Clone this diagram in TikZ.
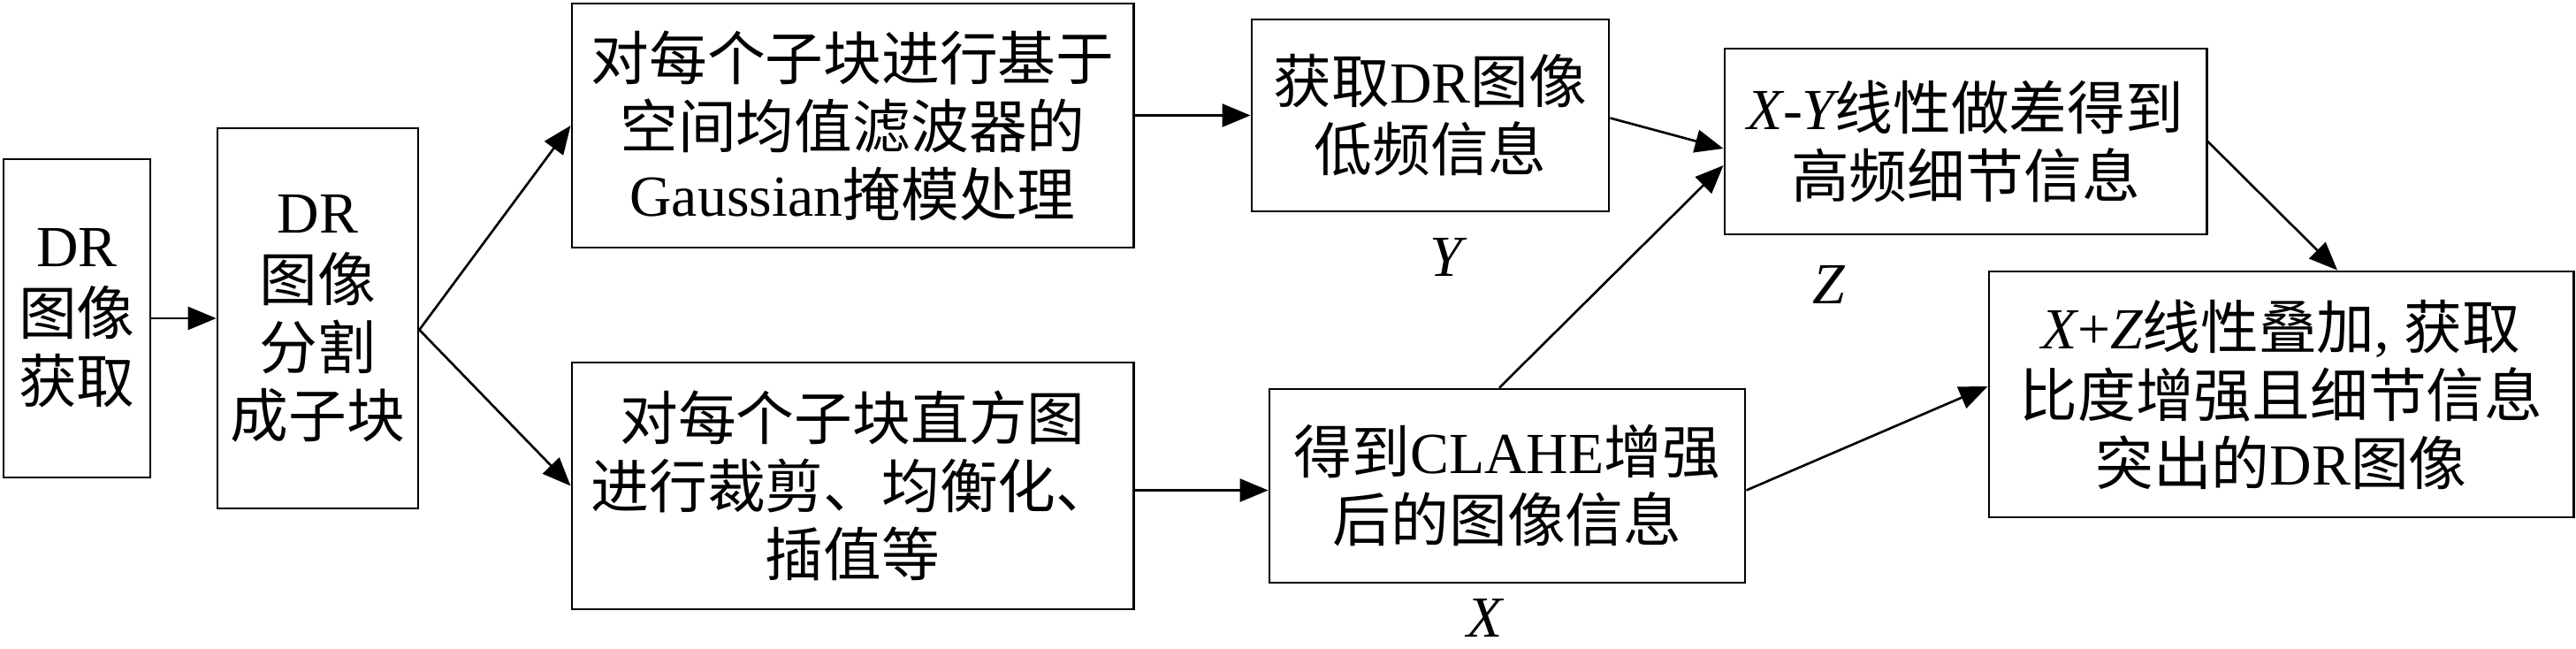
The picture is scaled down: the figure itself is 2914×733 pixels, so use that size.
\documentclass[tikz,border=0pt]{standalone}
\usepackage{fontspec}
\setmainfont{Noto Sans CJK SC}
\newfontfamily\latf{Liberation Serif}
\usetikzlibrary{arrows.meta}
\newcommand\rmL[1]{{\latf #1}}
\newcommand\itL[1]{{\latf\itshape #1}}
\begin{document}
\begin{tikzpicture}[x=0.01cm,y=-0.01cm,
  box/.style={draw, line width=0.75pt, align=center, inner sep=0pt,
    font=\fontsize{18.7}{21.9}\selectfont},
  arr/.style={-{Triangle[length=3.2mm,width=2.6mm]}, line width=0.75pt},
  lab/.style={font=\fontsize{18.7}{21.9}\selectfont\latf\itshape, inner sep=0pt, anchor=base}]
\useasboundingbox (0,0) rectangle (2914,733);
\node[box, minimum width=1.66cm, minimum height=3.6cm] (b1) at (87,360) {\rmL{DR}\\图像\\获取};
\node[box, minimum width=2.27cm, minimum height=4.3cm] (b2) at (359.5,360) {\rmL{DR}\\图像\\分割\\成子块};
\node[box, minimum width=6.35cm, minimum height=2.76cm] (b3) at (964.5,142) {对每个子块进行基于\\空间均值滤波器的\\\rmL{Gaussian}掩模处理};
\node[box, minimum width=6.35cm, minimum height=2.79cm] (b4) at (964.5,549.5) {对每个子块直方图\\进行裁剪、均衡化、\\插值等};
\node[box, minimum width=4.04cm, minimum height=2.17cm] (b5) at (1618,130.5) {获取\rmL{DR}图像\\低频信息};
\node[box, minimum width=5.38cm, minimum height=2.19cm] (b6) at (1705,549.5) {得到\rmL{CLAHE}增强\\后的图像信息};
\node[box, minimum width=5.45cm, minimum height=2.10cm] (b7) at (2223.5,160) {\itL{X}\rmL{-}\itL{Y}线性做差得到\\高频细节信息};
\node[box, minimum width=6.61cm, minimum height=2.78cm] (b8) at (2580.5,446) {\itL{X}\rmL{+}\itL{Z}线性叠加\rmL{, }获取\\比度增强且细节信息\\突出的\rmL{DR}图像};
\node[lab] (ly) at (1636,312) {Y};
\node[lab] (lz) at (2069,343) {Z};
\node[lab] (lx) at (1680,720) {X};
\draw[arr] (b1) -- (b2);
\draw[arr] ([yshift=-0.13cm]b2.east) -- (b3.west);
\draw[arr] ([yshift=-0.13cm]b2.east) -- (b4.west);
\draw[arr] (b3.east |- b5.west) -- (b5.west);
\draw[arr] ([yshift=-0.05cm]b4.east) -- ([yshift=-0.05cm]b6.west);
\draw[arr] ([yshift=-0.03cm]b5.east) -- ([yshift=-0.08cm]b7.west);
\draw[arr] ([xshift=-0.09cm]b6.north) -- ([yshift=-0.27cm]b7.west);
\draw[arr] (b7.east) -- ([xshift=0.635cm]b8.north);
\draw[arr] ([yshift=-0.05cm]b6.east) -- ([yshift=0.09cm]b8.west);
\end{tikzpicture}
\end{document}
